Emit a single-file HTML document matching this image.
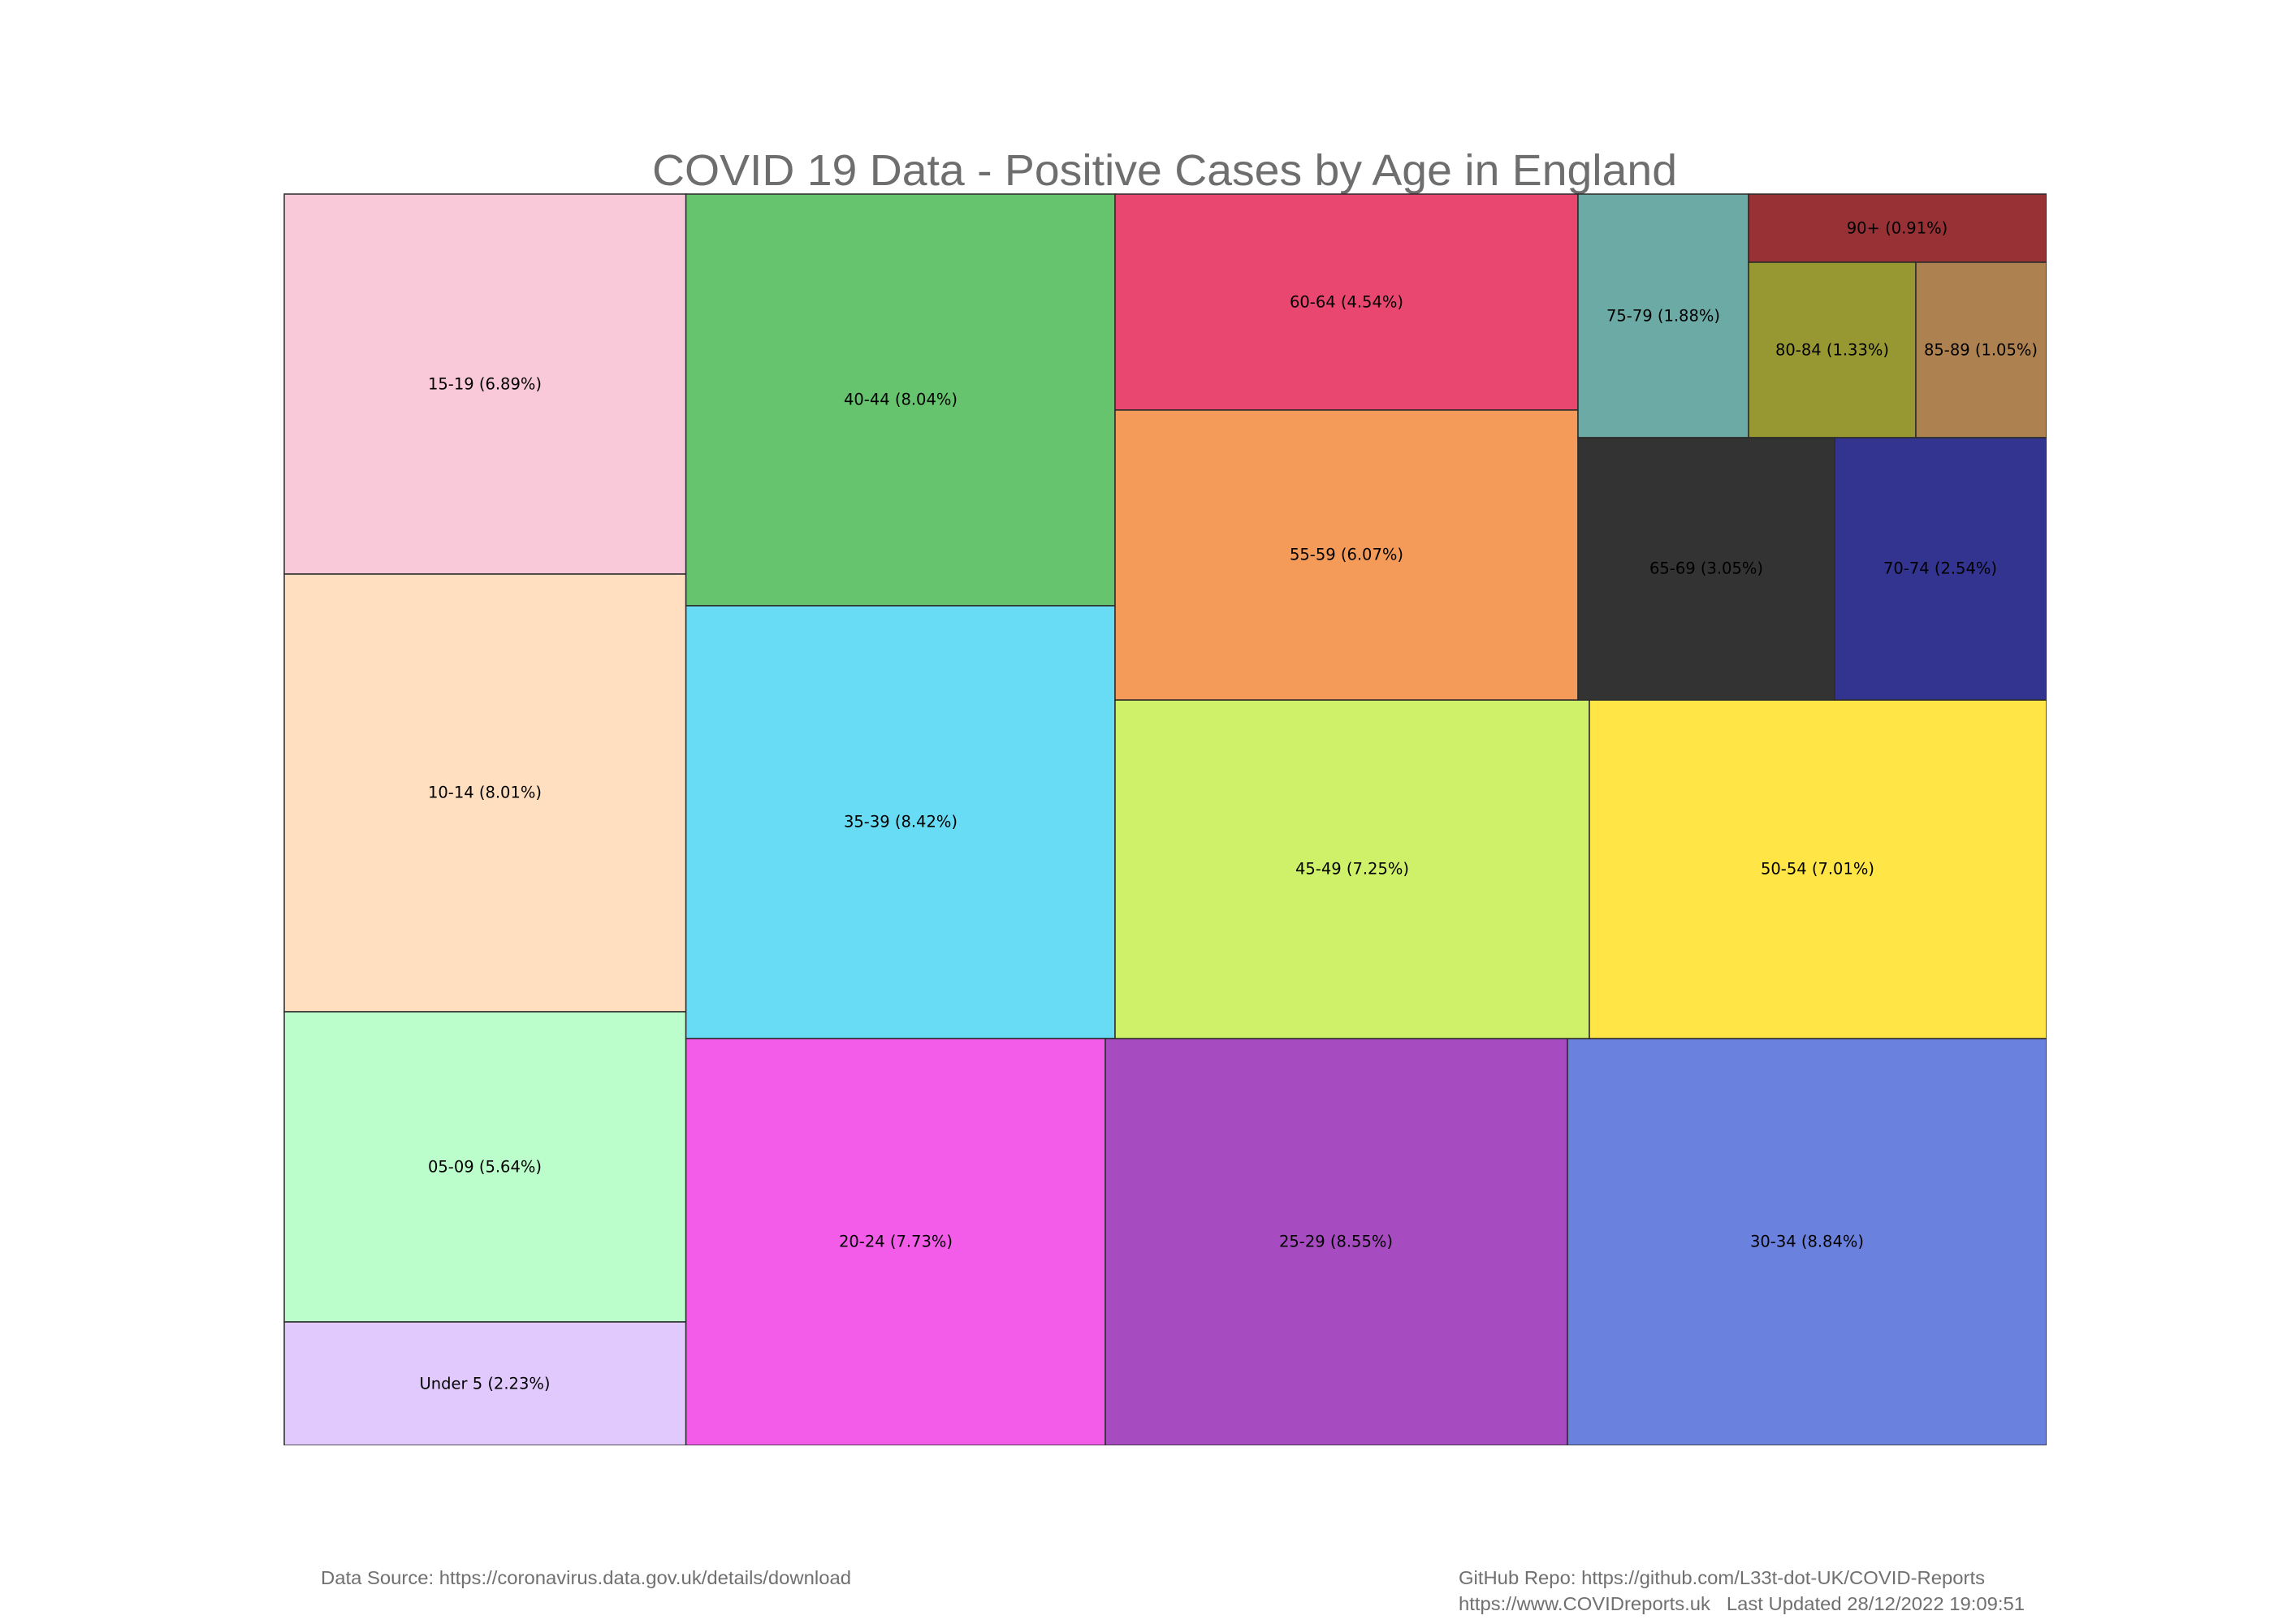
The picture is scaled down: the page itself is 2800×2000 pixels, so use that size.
<!DOCTYPE html>
<html><head><meta charset="utf-8"><style>body{margin:0;background:#fff}svg{display:block}</style></head><body>
<svg width="2800" height="2000" xmlns="http://www.w3.org/2000/svg">
<defs><clipPath id="c"><rect x="349" y="238" width="2171" height="1542"/></clipPath></defs>
<rect width="2800" height="2000" fill="#fff"/>
<text x="1434" y="228" text-anchor="middle" font-family="Liberation Sans, sans-serif" font-size="54" fill="#6e6e6e" textLength="1262" lengthAdjust="spacingAndGlyphs">COVID 19 Data - Positive Cases by Age in England</text>
<g stroke="#2a2a2a" stroke-width="1.5" clip-path="url(#c)">
<rect x="350" y="239" width="494.6" height="468" fill="#f9c9da"/>
<rect x="350" y="707" width="494.6" height="539" fill="#ffdfbf"/>
<rect x="350" y="1246" width="494.6" height="382" fill="#bbfdcb"/>
<rect x="350" y="1628" width="494.6" height="152" fill="#e1c9fd"/>
<rect x="844.6" y="239" width="528.4" height="507" fill="#66c46f"/>
<rect x="844.6" y="746" width="528.4" height="533" fill="#68dbf5"/>
<rect x="844.6" y="1279" width="516.4" height="501" fill="#f25ce9"/>
<rect x="1361" y="1279" width="569" height="501" fill="#a64bc0"/>
<rect x="1930" y="1279" width="590" height="501" fill="#6a82dd"/>
<rect x="1373" y="862" width="584" height="417" fill="#cff16a"/>
<rect x="1957" y="862" width="563" height="417" fill="#ffe545"/>
<rect x="1373" y="239" width="570" height="266" fill="#ea4770"/>
<rect x="1373" y="505" width="570" height="357" fill="#f59b5a"/>
<rect x="1943" y="239" width="210" height="300" fill="#6caaa5"/>
<rect x="2153" y="239" width="367" height="84" fill="#973135"/>
<rect x="2153" y="323" width="206" height="216" fill="#989833"/>
<rect x="2359" y="323" width="161" height="216" fill="#ae8151"/>
<rect x="1943" y="539" width="316" height="323" fill="#333333"/>
<rect x="2259" y="539" width="261" height="323" fill="#333390"/>
</g>
<g font-family="DejaVu Sans, sans-serif" font-size="19.5" fill="#000" text-anchor="middle" dominant-baseline="central">
<text x="597" y="473">15-19 (6.89%)</text>
<text x="597" y="976">10-14 (8.01%)</text>
<text x="597" y="1437">05-09 (5.64%)</text>
<text x="597" y="1704">Under 5 (2.23%)</text>
<text x="1109" y="492">40-44 (8.04%)</text>
<text x="1109" y="1012">35-39 (8.42%)</text>
<text x="1103" y="1529">20-24 (7.73%)</text>
<text x="1645" y="1529">25-29 (8.55%)</text>
<text x="2225" y="1529">30-34 (8.84%)</text>
<text x="1665" y="1070">45-49 (7.25%)</text>
<text x="2238" y="1070">50-54 (7.01%)</text>
<text x="1658" y="372">60-64 (4.54%)</text>
<text x="1658" y="683">55-59 (6.07%)</text>
<text x="2048" y="389">75-79 (1.88%)</text>
<text x="2336" y="281">90+ (0.91%)</text>
<text x="2256" y="431">80-84 (1.33%)</text>
<text x="2439" y="431">85-89 (1.05%)</text>
<text x="2101" y="700">65-69 (3.05%)</text>
<text x="2389" y="700">70-74 (2.54%)</text>
</g>
<g font-family="Liberation Sans, sans-serif" font-size="23" fill="#707070">
<text x="395" y="1951" textLength="653" lengthAdjust="spacingAndGlyphs">Data Source: https://coronavirus.data.gov.uk/details/download</text>
<text x="1796" y="1951" textLength="648" lengthAdjust="spacingAndGlyphs">GitHub Repo: https://github.com/L33t-dot-UK/COVID-Reports</text>
<text x="1796" y="1983" textLength="697" lengthAdjust="spacingAndGlyphs" xml:space="preserve">https://www.COVIDreports.uk   Last Updated 28/12/2022 19:09:51</text>
</g>
</svg>
</body></html>
